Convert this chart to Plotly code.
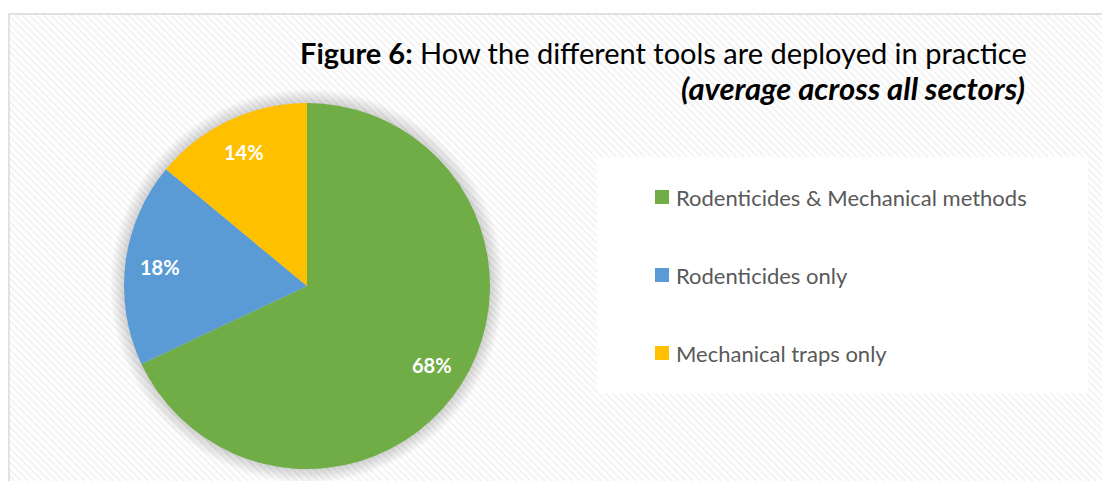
import numpy as np
import plotly.graph_objects as go

# Survey result: how the control tools are deployed (average across all sectors)
labels = ["Rodenticides & Mechanical methods", "Rodenticides only", "Mechanical traps only"]
values = [68, 18, 14]
colors = ["#70AD47", "#5B9BD5", "#FFC000"]

title_main = "<b>Figure 6:</b> How the different tools are deployed in practice"
title_sub = "<b><i>(average across all sectors)</i></b>"

W, H = 1102, 481
FONT = "Lato, 'Open Sans', sans-serif"

# pie geometry in pixels
cx, cy, R = 307, 286, 183

fig = go.Figure()

# hatched chart-area background
fig.add_trace(go.Bar(
    x=[(9 + W + 10) / 2], y=[H + 10 - 14], base=[14], width=[W + 10 - 9],
    marker=dict(color="white", line=dict(width=0),
                pattern=dict(shape="\\", size=5, solidity=0.35,
                             fgcolor="#e6e6e6", bgcolor="white")),
    hoverinfo="skip", showlegend=False,
))

# soft shadow around the pie
theta = np.linspace(0, 2 * np.pi, 241)
for k in range(14, 0, -1):
    r = R + k
    fig.add_trace(go.Scatter(
        x=cx + r * np.cos(theta), y=cy + r * np.sin(theta),
        mode="lines", line=dict(width=0), fill="toself",
        fillcolor="rgba(0,0,0,0.011)", hoverinfo="skip", showlegend=False,
    ))

fig.add_trace(go.Pie(
    labels=labels, values=values, sort=False, direction="clockwise", rotation=0,
    marker=dict(colors=colors, line=dict(width=0)),
    textinfo="none",
    domain=dict(x=[(cx - R) / W, (cx + R) / W], y=[1 - (cy + R) / H, 1 - (cy - R) / H]),
    showlegend=False, hoverinfo="label+percent",
))

shapes = [
    # chart border
    dict(type="rect", xref="x", yref="y", x0=9, y0=14, x1=W + 10, y1=H + 10,
         line=dict(color="#D9D9D9", width=1.5), layer="above"),
    # legend box
    dict(type="rect", xref="x", yref="y", x0=597, y0=157, x1=1088, y1=393,
         fillcolor="white", line=dict(width=0), layer="above"),
]
annotations = [
    dict(text=title_main, xref="x", yref="y", x=1029, y=52, xanchor="right",
         yanchor="middle", showarrow=False, font=dict(family=FONT, size=29, color="black")),
    dict(text=title_sub, xref="x", yref="y", x=1027, y=88, xanchor="right",
         yanchor="middle", showarrow=False, font=dict(family=FONT, size=31, color="black")),
]

# percentage labels, placed along each slice's mid-angle at 0.81 of the radius
total = float(sum(values))
start = 0.0
for v in values:
    mid = (start + v / 2) / total * 2 * np.pi  # clockwise from 12 o'clock
    start += v
    annotations.append(dict(
        text=f"<b>{round(v / total * 100)}%</b>", xref="x", yref="y",
        x=cx + 0.81 * R * np.sin(mid), y=cy - 0.81 * R * np.cos(mid),
        xanchor="center", yanchor="middle", showarrow=False,
        font=dict(family=FONT, size=20, color="white"),
    ))

# legend entries
row_y = [197, 275, 353]
for lab, col, yy in zip(labels, colors, row_y):
    shapes.append(dict(type="rect", xref="x", yref="y", x0=655, x1=669, y0=yy - 7, y1=yy + 7,
                       fillcolor=col, line=dict(width=0), layer="above"))
    annotations.append(dict(text=lab, xref="x", yref="y", x=674, y=yy, xanchor="left",
                            yanchor="middle", showarrow=False,
                            font=dict(family=FONT, size=22, color="#595959")))

fig.update_layout(
    width=W, height=H, margin=dict(l=0, r=0, t=0, b=0),
    paper_bgcolor="white", plot_bgcolor="white",
    xaxis=dict(range=[0, W], visible=False, fixedrange=True),
    yaxis=dict(range=[H, 0], visible=False, fixedrange=True),
    bargap=0, shapes=shapes, annotations=annotations,
)

fig.write_html("out.html")
